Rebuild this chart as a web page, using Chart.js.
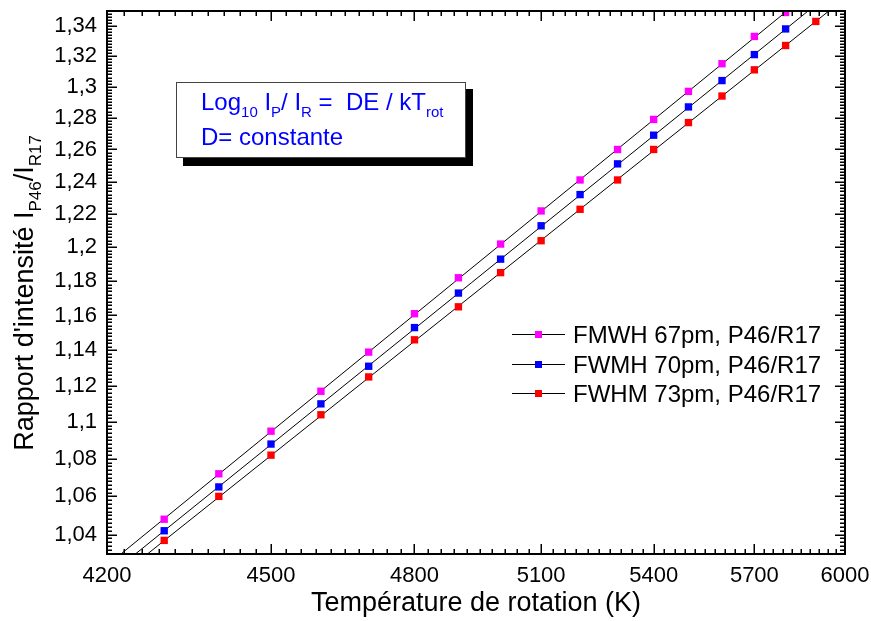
<!DOCTYPE html>
<html>
<head>
<meta charset="utf-8">
<script src="https://cdn.jsdelivr.net/npm/chart.js@4.4.1/dist/chart.umd.min.js"></script>
<style>
html, body { margin: 0; padding: 0; background: #fff; }
</style>
</head>
<body>
<canvas id="myChart" width="871" height="621"></canvas>
<script>
// temperatures (K) of the measured points
var temps = [4300, 4400, 4500, 4600, 4700, 4800, 4900, 5000, 5100, 5200, 5300, 5400, 5500, 5600, 5700, 5800];
var tempsRed = [4300, 4400, 4500, 4600, 4700, 4800, 4900, 5000, 5100, 5200, 5300, 5400, 5500, 5600, 5700, 5800, 5900];

// intensity ratio I_P46 / I_R17
var ratio67 = [1.048, 1.072, 1.095, 1.117, 1.139, 1.161, 1.182, 1.202, 1.222, 1.241, 1.260, 1.279, 1.297, 1.315, 1.333, 1.349];
var ratio70 = [1.042, 1.065, 1.088, 1.110, 1.131, 1.153, 1.173, 1.193, 1.213, 1.232, 1.251, 1.269, 1.287, 1.304, 1.321, 1.338];
var ratio73 = [1.037, 1.060, 1.082, 1.104, 1.125, 1.146, 1.165, 1.185, 1.204, 1.223, 1.241, 1.260, 1.277, 1.294, 1.311, 1.327, 1.343];

// fitted lines, read at both ends of the axis
var fitT = [4200, 6000];
var fit67 = [1.0242, 1.3822];
var fit70 = [1.0183, 1.3702];
var fit73 = [1.0136, 1.3587];

var seriesNames = ['FMWH 67pm, P46/R17', 'FWMH 70pm, P46/R17', 'FWHM 73pm, P46/R17'];
var seriesColors = ['#ff00ff', '#0000ff', '#ff0000'];

var xTicks = [4200, 4500, 4800, 5100, 5400, 5700, 6000];
var yTicks = [1.04, 1.06, 1.08, 1.1, 1.12, 1.14, 1.16, 1.18, 1.2, 1.22, 1.24, 1.26, 1.28, 1.3, 1.32, 1.34];

var FONT = '"Liberation Sans", Arial, sans-serif';

// x axis is 1/T (reversed), labelled in T
function inv(t) { return 1e4 / t; }
function pts(ts, vs) {
  var out = [];
  for (var i = 0; i < ts.length; i++) out.push({x: inv(ts[i]), y: vs[i]});
  return out;
}

function markerSet(label, ts, vs, color) {
  return {
    label: label, data: pts(ts, vs), showLine: false,
    pointStyle: 'rect', pointRadius: 5.2, pointHoverRadius: 5.2,
    pointBackgroundColor: color, pointBorderColor: color, pointBorderWidth: 0
  };
}
function fitSet(vs) {
  return {
    label: 'fit', data: pts(fitT, vs), showLine: true,
    borderColor: '#000', borderWidth: 1, pointRadius: 0, pointHoverRadius: 0
  };
}

function drawRich(ctx, x, y, parts, big, small, shift) {
  for (var i = 0; i < parts.length; i++) {
    var sub = parts[i][1];
    ctx.font = (sub ? small : big) + 'px ' + FONT;
    ctx.fillText(parts[i][0], x, y + (sub ? shift : 0));
    x += ctx.measureText(parts[i][0]).width;
  }
}
function richWidth(ctx, parts, big, small) {
  var w = 0;
  for (var i = 0; i < parts.length; i++) {
    ctx.font = (parts[i][1] ? small : big) + 'px ' + FONT;
    w += ctx.measureText(parts[i][0]).width;
  }
  return w;
}

var decor = {
  id: 'decor',
  afterDatasetsDraw: function(chart) {
    var ctx = chart.ctx, a = chart.chartArea;
    var xs = chart.scales.x, ys = chart.scales.y;
    ctx.save();
    ctx.strokeStyle = '#000';
    ctx.lineWidth = 1.5;
    ctx.beginPath();
    for (var i = 0; i <= 60; i++) {
      var px = Math.round(xs.getPixelForValue(inv(4200 + i * 30))) + 0.25;
      var len = i % 10 === 0 ? 10 : 5;
      ctx.moveTo(px, a.bottom); ctx.lineTo(px, a.bottom - len);
      ctx.moveTo(px, a.top); ctx.lineTo(px, a.top + len);
    }
    for (var j = 0; j <= 160; j++) {
      var py = Math.round(ys.getPixelForValue(1.03 + j * 0.002)) + 0.25;
      var l2 = j % 10 === 5 ? 10 : 5;
      ctx.moveTo(a.left, py); ctx.lineTo(a.left + l2, py);
      ctx.moveTo(a.right, py); ctx.lineTo(a.right - l2, py);
    }
    ctx.stroke();
    ctx.lineWidth = 2;
    ctx.strokeRect(a.left, a.top, a.right - a.left, a.bottom - a.top);

    // equation box with shadow
    ctx.fillStyle = '#000';
    ctx.fillRect(183, 89, 290, 77);
    ctx.fillStyle = '#fff';
    ctx.fillRect(176, 82, 290, 76);
    ctx.lineWidth = 1;
    ctx.strokeStyle = '#444';
    ctx.strokeRect(176.5, 82.5, 289, 75);
    ctx.fillStyle = '#0000ff';
    ctx.textAlign = 'left';
    ctx.textBaseline = 'alphabetic';
    drawRich(ctx, 201, 110, [['Log', 0], ['10', 1], [' I', 0], ['P', 1], ['/ I', 0], ['R', 1], [' =  DE / kT', 0], ['rot', 1]], 24, 15, 7);
    drawRich(ctx, 201, 145, [['D= constante', 0]], 24, 15, 7);

    // legend: line with marker in the middle
    var rows = [334, 364, 393];
    for (var k = 0; k < 3; k++) {
      ctx.strokeStyle = '#000';
      ctx.lineWidth = 1;
      ctx.beginPath();
      ctx.moveTo(512, rows[k] + 0.5); ctx.lineTo(565, rows[k] + 0.5);
      ctx.stroke();
      ctx.fillStyle = chart.data.datasets[k].pointBackgroundColor;
      ctx.fillRect(535, rows[k] - 3, 7, 7);
      ctx.fillStyle = '#000';
      ctx.font = '24px ' + FONT;
      ctx.fillText(chart.data.datasets[k].label, 573, rows[k] + 9);
    }

    // y axis title with subscripts
    var tparts = [["Rapport d'intensité I", 0], ['P46', 1], ['/I', 0], ['R17', 1]];
    var tw = richWidth(ctx, tparts, 27, 17);
    ctx.translate(33, 293);
    ctx.rotate(-Math.PI / 2);
    ctx.fillStyle = '#000';
    drawRich(ctx, -tw / 2, 0, tparts, 27, 17, 8);
    ctx.restore();
  }
};

var ctx = document.getElementById('myChart').getContext('2d');
var myChart = new Chart(ctx, {
  type: 'scatter',
  data: {
    datasets: [
      markerSet(seriesNames[0], temps, ratio67, seriesColors[0]),
      markerSet(seriesNames[1], temps, ratio70, seriesColors[1]),
      markerSet(seriesNames[2], tempsRed, ratio73, seriesColors[2]),
      fitSet(fit67),
      fitSet(fit70),
      fitSet(fit73)
    ]
  },
  options: {
    responsive: false,
    animation: false,
    devicePixelRatio: 1,
    layout: { padding: { left: 0, right: 26, top: 11, bottom: 0 } },
    plugins: { legend: { display: false }, tooltip: { enabled: false } },
    scales: {
      x: {
        type: 'linear', reverse: true,
        min: inv(6000), max: inv(4200),
        grid: { display: false, drawTicks: false },
        border: { display: false },
        afterBuildTicks: function(s) { s.ticks = xTicks.map(function(t) { return {value: inv(t)}; }); },
        afterFit: function(s) { s.height = 67; s.paddingLeft = 0; s.paddingRight = 0; },
        ticks: {
          autoSkip: false, maxRotation: 0, padding: 9, color: '#000',
          font: { family: FONT, size: 22 },
          callback: function(v) { return String(Math.round(1e4 / v)); }
        },
        title: {
          display: true, text: 'Température de rotation (K)', color: '#000',
          font: { family: FONT, size: 27 }, padding: { top: 0, bottom: 1 }
        }
      },
      y: {
        type: 'logarithmic',
        min: 1.03, max: 1.35,
        grid: { display: false, drawTicks: false },
        border: { display: false },
        afterBuildTicks: function(s) { s.ticks = yTicks.map(function(v) { return {value: v}; }); },
        afterFit: function(s) { s.width = 107; s.paddingTop = 0; s.paddingBottom = 0; },
        ticks: {
          autoSkip: false, padding: 10, color: '#000',
          font: { family: FONT, size: 22 },
          callback: function(v) { return String(Math.round(v * 100) / 100).replace('.', ','); }
        }
      }
    }
  },
  plugins: [decor]
});
</script>
</body>
</html>
